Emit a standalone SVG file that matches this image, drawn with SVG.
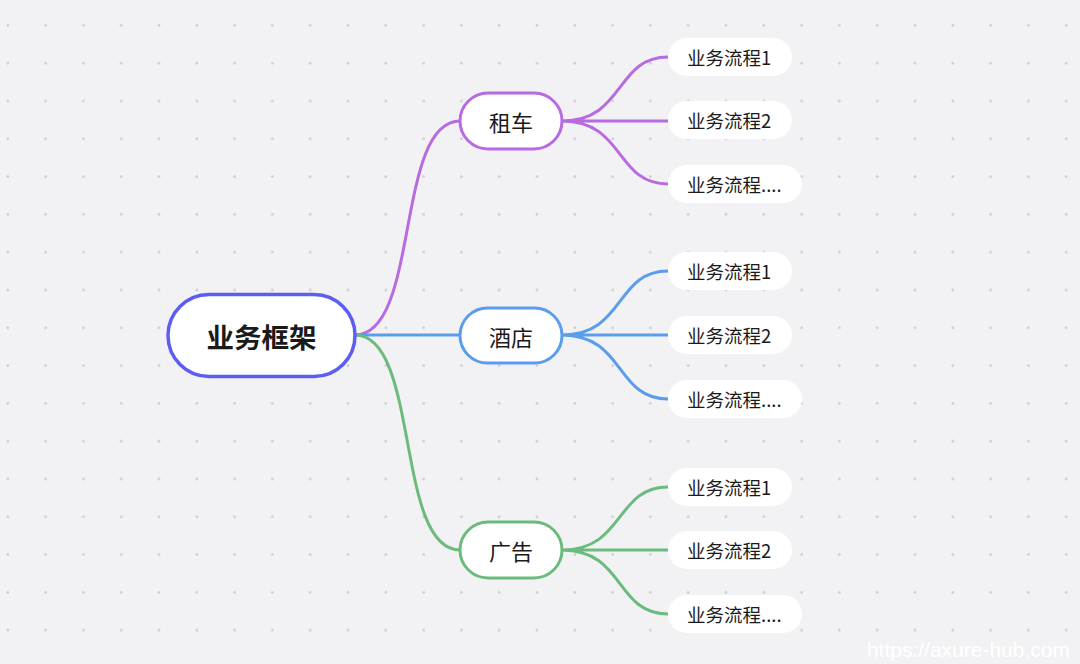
<svg xmlns="http://www.w3.org/2000/svg" width="1080" height="664" viewBox="0 0 1080 664">
<defs>
<pattern id="dots" width="37.8" height="37.8" patternUnits="userSpaceOnUse"><circle cx="7.8" cy="25.4" r="1.3" fill="#c9c9ce"/></pattern>
<style>
text{font-family:"Noto Sans CJK SC","Noto Sans",sans-serif;fill:#1a1a1a;dominant-baseline:central}
.c{fill:none;stroke-width:3}
.leaf rect{fill:#fff}
.leaf text{font-size:18.5px}
.br rect{fill:#fff;stroke-width:3}
.br text{font-size:22px;text-anchor:middle}
</style>
</defs>
<rect width="1080" height="664" fill="#f2f2f4"/>
<rect width="1080" height="664" fill="url(#dots)"/>
<g id="connectors">
<path class="c" stroke="#b86ae0" d="M355 335 C 420 335 395 121 460 121"/>
<path class="c" stroke="#5b9ded" d="M355 335 L 460 335"/>
<path class="c" stroke="#6cbb7e" d="M355 335 C 420 335 395 550 460 550"/>
<path class="c" stroke="#b86ae0" d="M562 121 C 625 121 615 57 668 57 M562 121 L668 121 M562 121 C 625 121 615 184 668 184"/>
<path class="c" stroke="#5b9ded" d="M562 335 C 625 335 615 271 668 271 M562 335 L668 335 M562 335 C 625 335 615 399 668 399"/>
<path class="c" stroke="#6cbb7e" d="M562 550 C 625 550 615 487 668 487 M562 550 L668 550 M562 550 C 625 550 615 614 668 614"/>
</g>
<g id="root"><rect x="168" y="294.5" width="187" height="82" rx="41" fill="#fff" stroke="#5b5ef0" stroke-width="3.5"/><text x="261.5" y="336" font-size="27.5" font-weight="bold" text-anchor="middle">业务框架</text></g>
<g id="zuche" class="br"><rect x="460" y="93" width="102" height="56" rx="28" stroke="#b86ae0"/><text x="511" y="121">租车</text></g>
<g id="jiudian" class="br"><rect x="460" y="308" width="102" height="55" rx="27.5" stroke="#5b9ded"/><text x="511" y="336">酒店</text></g>
<g id="guanggao" class="br"><rect x="460" y="522" width="102" height="56" rx="28" stroke="#6cbb7e"/><text x="511" y="550">广告</text></g>
<g id="l1" class="leaf"><rect x="668" y="38" width="124" height="38" rx="19"/><text x="687" y="57">业务流程1</text></g>
<g id="l2" class="leaf"><rect x="668" y="101" width="124" height="38" rx="19"/><text x="687" y="120">业务流程2</text></g>
<g id="l3" class="leaf"><rect x="668" y="165" width="134" height="38" rx="19"/><text x="687" y="184">业务流程....</text></g>
<g id="l4" class="leaf"><rect x="668" y="252" width="124" height="38" rx="19"/><text x="687" y="271">业务流程1</text></g>
<g id="l5" class="leaf"><rect x="668" y="316" width="124" height="38" rx="19"/><text x="687" y="335">业务流程2</text></g>
<g id="l6" class="leaf"><rect x="668" y="380" width="134" height="38" rx="19"/><text x="687" y="399">业务流程....</text></g>
<g id="l7" class="leaf"><rect x="668" y="468" width="124" height="38" rx="19"/><text x="687" y="487">业务流程1</text></g>
<g id="l8" class="leaf"><rect x="668" y="531" width="124" height="38" rx="19"/><text x="687" y="550">业务流程2</text></g>
<g id="l9" class="leaf"><rect x="668" y="595" width="134" height="38" rx="19"/><text x="687" y="614">业务流程....</text></g>
<text x="1070" y="649" font-size="21" text-anchor="end" style="fill:#ffffff;font-family:'Liberation Sans',sans-serif">https://axure-hub.com</text>
</svg>
